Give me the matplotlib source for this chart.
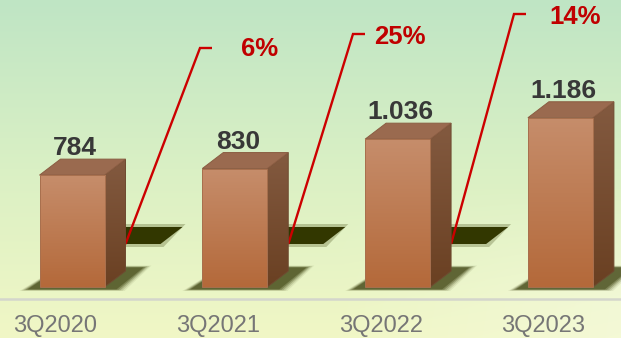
import numpy as np
import matplotlib
matplotlib.use("Agg")
import matplotlib.pyplot as plt
from matplotlib.patches import Polygon
from matplotlib.colors import to_rgb

# ---- data ----
categories = ["3Q2020", "3Q2021", "3Q2022", "3Q2023"]
values = [784, 830, 1036, 1186]
value_labels = ["784", "830", "1.036", "1.186"]
growth = [6, 25, 14]

# ---- layout (pixel-based helpers) ----
W, H = 621, 338
PX0, PXS = 72.0, 162.8      # px of category 0, px per category
PY0, PYS = 287.0, 0.1427    # px of value 0, px per value unit

def xd(px):
    return (px - PX0) / PXS

def yd(py):
    return (PY0 - py) / PYS

def dxp(p):
    return p / PXS

def dyp(p):
    return p / PYS

fig = plt.figure(figsize=(W / 100, H / 100), dpi=100)
ax = fig.add_axes([0, 0, 1, 1])
ax.set_xlim(xd(0), xd(W))
ax.set_ylim(yd(H), yd(0))
ax.axis("off")

# background gradient
ny, nx = 200, 200
t = np.linspace(0, 1, ny)[:, None]
s = np.linspace(0, 1, nx)[None, :]
c_top = np.array(to_rgb("#bfe5c5"))
c_mid = np.array(to_rgb("#daf0c4"))
c_bot = np.array(to_rgb("#f1f7c6"))
img = np.zeros((ny, nx, 3))
for k in range(3):
    v = np.where(t < 0.5, c_top[k] + (c_mid[k] - c_top[k]) * (t / 0.5),
                 c_mid[k] + (c_bot[k] - c_mid[k]) * ((t - 0.5) / 0.5))
    img[:, :, k] = v * np.ones_like(s)
white = np.array([0.97, 0.985, 0.90])
wgt = np.clip((s - 0.55) / 0.45, 0, 1) * np.clip((t - 0.55) / 0.35, 0, 1) * 0.5
img = img * (1 - wgt[..., None]) + white * wgt[..., None]
ax.imshow(img, extent=[xd(0), xd(W), yd(H), yd(0)], aspect="auto", zorder=0,
          interpolation="bicubic")

# baseline
ax.plot([xd(0), xd(W)], [yd(299), yd(299)], color="#d4d6cc", lw=1.8, zorder=1)

bw = 65 / PXS
ddx = dxp(21)
ddy = dyp(16)
x = np.arange(len(values))

# soft shadows at bar bases
for i in x:
    left = i - bw / 2
    right = i + bw / 2
    for k, a in enumerate([0.08, 0.14, 0.22, 0.30, 0.38]):
        g = 5 - k
        poly = [(left - dxp(10 + 2 * g), yd(289 + 0.4 * g)),
                (right + dxp(10 + 2 * g), yd(289 + 0.4 * g)),
                (right + ddx + dxp(16 + 2 * g), yd(268 - 0.5 * g)),
                (left + ddx, yd(268 - 0.5 * g))]
        ax.add_patch(Polygon(poly, closed=True, facecolor="#2e3300", alpha=a,
                             edgecolor="none", zorder=2))

# dark floor shapes behind the callouts
for i in range(len(growth)):
    right = i + bw / 2
    for g, a in [(3, 0.25), (0, 1.0)]:
        poly = [(right, yd(227 - g)), (right + ddx + dxp(57 + g), yd(227 - g)),
                (right + ddx + dxp(35 + g), yd(244 + g)), (right, yd(244 + g))]
        ax.add_patch(Polygon(poly, closed=True, facecolor="#323700", alpha=a,
                             edgecolor="none", zorder=3))

# red callout lines
tops_px = [(200, 48), (353, 34), (514, 14)]
label_px = [(241, 49), (374, 37), (549, 17)]
for i, g in enumerate(growth):
    x0 = i + bw / 2 + ddx
    y0 = yd(244)
    tx, ty = tops_px[i]
    ax.plot([x0, xd(tx), xd(tx + 12)], [y0, yd(ty), yd(ty)], color="#cc0000",
            lw=1.7, zorder=4, solid_capstyle="butt", solid_joinstyle="miter")
    lx, ly = label_px[i]
    ax.text(xd(lx), yd(ly), f"{g}%", color="#c00000", fontsize=18.5,
            fontweight="bold", family="Liberation Sans", ha="left",
            va="center", zorder=6)

# bars: front faces through ax.bar, with gradient fill
bars = ax.bar(x, values, width=bw, bottom=0, color="none", edgecolor="none",
              zorder=5)
front_grad = np.linspace(0, 1, 100)[:, None]
ftop = np.array(to_rgb("#c68d6b"))
fbot = np.array(to_rgb("#b4693a"))
fimg = ftop + (fbot - ftop) * front_grad[..., None]
fimg = np.repeat(fimg, 2, axis=1)
stop = np.array(to_rgb("#835a40"))
sbot = np.array(to_rgb("#6a4022"))
simg = stop + (sbot - stop) * front_grad[..., None]
simg = np.repeat(simg, 2, axis=1)

for i, (b, v) in enumerate(zip(bars, values)):
    left = b.get_x()
    right = left + b.get_width()
    side = Polygon([(right, 0), (right + ddx, ddy), (right + ddx, v + ddy),
                    (right, v)], closed=True, facecolor="none",
                   edgecolor="#6e4a30", lw=0.7, zorder=5)
    ax.add_patch(side)
    im = ax.imshow(simg, extent=[right, right + ddx, 0, v + ddy],
                   aspect="auto", zorder=4.9, interpolation="bilinear")
    im.set_clip_path(side)
    ax.add_patch(Polygon([(left, v), (right, v), (right + ddx, v + ddy),
                          (left + ddx, v + ddy)], closed=True,
                         facecolor="#9a6a4f", edgecolor="#8a5c42", lw=0.7,
                         zorder=5))
    im2 = ax.imshow(fimg, extent=[left, right, 0, v], aspect="auto",
                    zorder=5.1, interpolation="bilinear")
    im2.set_clip_path(b)
    ax.add_patch(Polygon([(left, 0), (right, 0), (right, v), (left, v)],
                         closed=True, facecolor="none", edgecolor="#a8704e",
                         lw=0.7, zorder=5.2))
    ax.text(i + dxp(3), v + ddy + dyp(11), value_labels[i], color="#383838",
            fontsize=19, fontweight="bold", family="Liberation Sans",
            ha="center", va="center", zorder=6)
    ax.text(i - dxp(17), yd(326), categories[i], color="#767676",
            fontsize=17, family="Liberation Sans", ha="center", va="center",
            zorder=6)

fig.savefig("out.png", dpi=100)
